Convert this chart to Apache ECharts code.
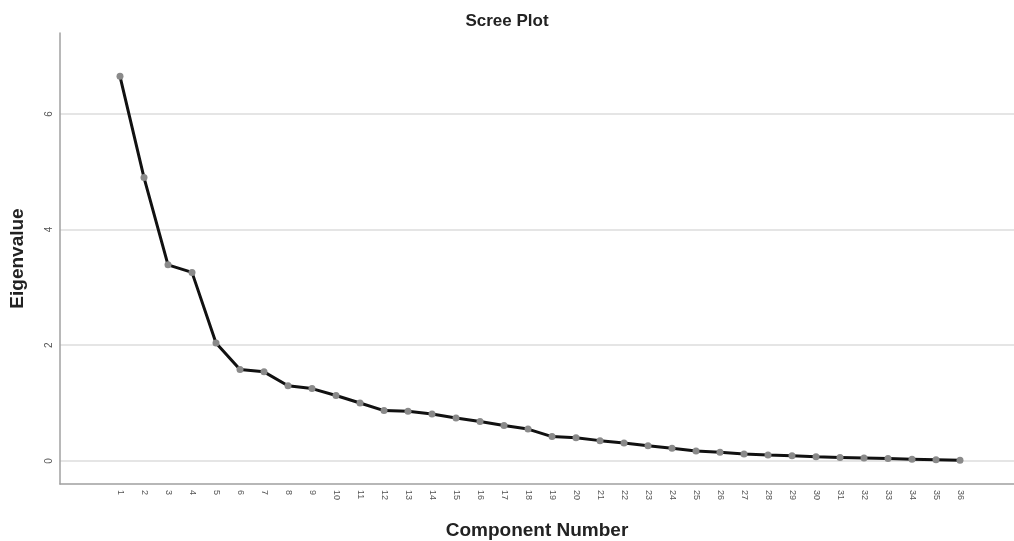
<!DOCTYPE html>
<html>
<head>
<meta charset="utf-8">
<script src="https://cdn.jsdelivr.net/npm/echarts@6/dist/echarts.min.js"></script>
<style>
html,body{margin:0;padding:0;background:#fff;}
#chart{width:1014px;height:541px;}
</style>
</head>
<body>
<div id="chart"></div>
<script>
var components = [1,2,3,4,5,6,7,8,9,10,11,12,13,14,15,16,17,18,19,20,21,22,23,24,25,26,27,28,29,30,31,32,33,34,35,36];
var eigenvalues = [6.65,4.90,3.39,3.26,2.04,1.58,1.54,1.30,1.25,1.13,1.00,0.87,0.86,0.81,0.74,0.68,0.61,0.55,0.42,0.40,0.35,0.31,0.26,0.22,0.17,0.15,0.12,0.10,0.09,0.07,0.06,0.05,0.04,0.03,0.02,0.01];
var yTicks = [0,2,4,6];
var titleText = 'Scree Plot';
var xName = 'Component Number';
var yName = 'Eigenvalue';

var seriesData = components.map(function(c,i){ return [c, eigenvalues[i]]; });

var chart = echarts.init(document.getElementById('chart'), null, {renderer:'canvas'});
chart.setOption({
  animation:false,
  backgroundColor:'#fff',
  title:{
    text:titleText, left:'center', top:8,
    textStyle:{fontFamily:'Liberation Sans, Arial, sans-serif', fontWeight:'bold', fontSize:17, color:'#222'}
  },
  grid:{left:60, right:0, top:33, bottom:57, containLabel:false, outerBoundsMode:'none'},
  xAxis:{
    type:'value', min:-1.5, max:38.25,
    name:xName, nameLocation:'middle', nameGap:37, nameMoveOverlap:false,
    nameTextStyle:{fontFamily:'Liberation Sans, Arial, sans-serif', fontWeight:'bold', fontSize:19, color:'#222', verticalAlign:'top'},
    axisLine:{show:true, onZero:false, lineStyle:{color:'#a0a0a0', width:1.5}},
    axisTick:{show:false, customValues:components},
    axisLabel:{customValues:components, rotate:-90, margin:6, fontSize:9, color:'#555', fontFamily:'Liberation Sans, Arial, sans-serif'},
    splitLine:{show:false}
  },
  yAxis:{
    type:'value', min:-0.4, max:7.4,
    name:yName, nameLocation:'middle', nameGap:33, nameMoveOverlap:false,
    nameTextStyle:{fontFamily:'Liberation Sans, Arial, sans-serif', fontWeight:'bold', fontSize:19, color:'#222'},
    axisLine:{show:true, onZero:false, lineStyle:{color:'#a0a0a0', width:1.5}},
    axisTick:{show:false, customValues:yTicks},
    axisLabel:{customValues:yTicks, rotate:90, margin:6, fontSize:10, color:'#555', fontFamily:'Liberation Sans, Arial, sans-serif'},
    splitLine:{show:true, lineStyle:{color:'#dcdcdc', width:1.5}}
  },
  series:[{
    type:'line',
    data:seriesData,
    symbol:'circle', symbolSize:7,
    lineStyle:{color:'#111', width:3},
    itemStyle:{color:'#8a8a8a'},
    z:3
  }]
});
</script>
</body>
</html>
